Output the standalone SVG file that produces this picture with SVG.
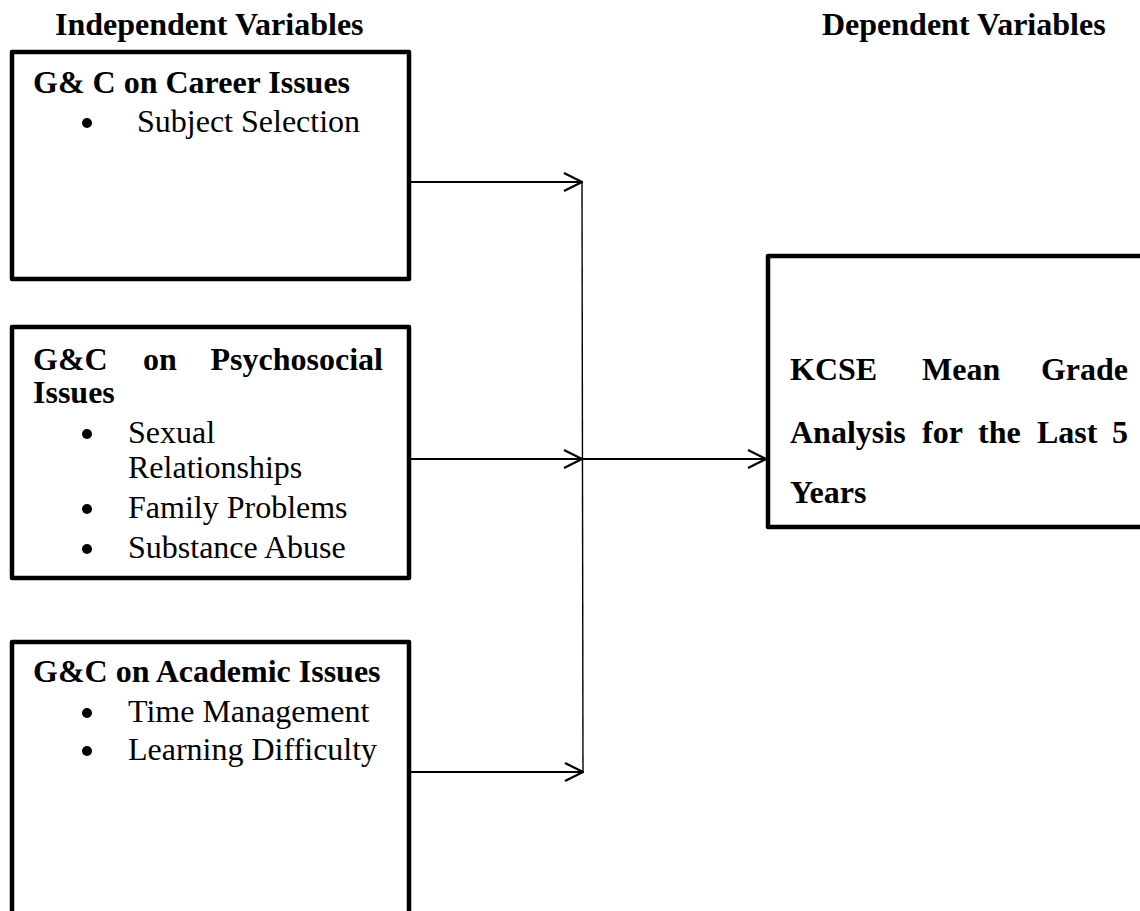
<svg xmlns="http://www.w3.org/2000/svg" width="1140" height="911" viewBox="0 0 1140 911">
  <defs>
    <style>
      .box { fill: #ffffff; stroke: #000000; stroke-width: 4.5; stroke-linejoin: round; }
      .hd { font-family: "Liberation Serif", "Times New Roman", serif; font-size: 32px; font-weight: bold; fill: #000000; }
      .tx { font-family: "Liberation Serif", "Times New Roman", serif; font-size: 32px; fill: #000000; }
      .conn { stroke: #000000; stroke-width: 2.2; fill: none; }
      .bus { stroke: #000000; stroke-width: 1.4; fill: none; }
      .bul { fill: #000000; }
    </style>
    <marker id="arr" viewBox="0 0 20 20" refX="19" refY="10" markerWidth="20" markerHeight="20" markerUnits="userSpaceOnUse" orient="auto">
      <path d="M1,1 L19,10 L1,19" fill="none" stroke="#000000" stroke-width="2.2"/>
    </marker>
  </defs>
  <rect width="1140" height="911" fill="#ffffff"/>

  <g id="headings">
    <text class="hd" x="55" y="35">Independent Variables</text>
    <text class="hd" x="822" y="35">Dependent Variables</text>
  </g>

  <g id="node-career">
    <rect class="box" x="12" y="52" width="397" height="227"/>
    <text class="hd" x="33" y="93">G&amp; C on Career Issues</text>
    <circle class="bul" cx="87" cy="123" r="5"/>
    <text class="tx" x="137" y="132">Subject Selection</text>
  </g>

  <g id="node-psychosocial">
    <rect class="box" x="12" y="327" width="397" height="251"/>
    <text class="hd" x="33" y="370">G&amp;C</text>
    <text class="hd" x="143" y="370">on</text>
    <text class="hd" x="383" y="370" text-anchor="end">Psychosocial</text>
    <text class="hd" x="33" y="403">Issues</text>
    <circle class="bul" cx="87" cy="434" r="5"/>
    <text class="tx" x="128" y="443">Sexual</text>
    <text class="tx" x="128" y="478">Relationships</text>
    <circle class="bul" cx="87" cy="509" r="5"/>
    <text class="tx" x="128" y="518">Family Problems</text>
    <circle class="bul" cx="87" cy="549" r="5"/>
    <text class="tx" x="128" y="558">Substance Abuse</text>
  </g>

  <g id="node-academic">
    <rect class="box" x="12" y="642" width="397" height="290"/>
    <text class="hd" x="33" y="682">G&amp;C on Academic Issues</text>
    <circle class="bul" cx="87" cy="713" r="5"/>
    <text class="tx" x="128" y="722">Time Management</text>
    <circle class="bul" cx="87" cy="751" r="5"/>
    <text class="tx" x="128" y="760">Learning Difficulty</text>
  </g>

  <g id="node-kcse">
    <rect class="box" x="768" y="256" width="400" height="271"/>
    <text class="hd" x="790" y="380">KCSE</text>
    <text class="hd" x="922" y="380">Mean</text>
    <text class="hd" x="1128" y="380" text-anchor="end">Grade</text>
    <text class="hd" x="790" y="443">Analysis</text>
    <text class="hd" x="922" y="443">for</text>
    <text class="hd" x="978" y="443">the</text>
    <text class="hd" x="1037" y="443">Last</text>
    <text class="hd" x="1128" y="443" text-anchor="end">5</text>
    <text class="hd" x="790" y="503">Years</text>
  </g>

  <g id="connectors">
    <line class="bus" x1="582" y1="181" x2="583" y2="772"/>
    <line class="conn" x1="411" y1="182" x2="582" y2="182" marker-end="url(#arr)"/>
    <line class="conn" x1="411" y1="459" x2="582" y2="459" marker-end="url(#arr)"/>
    <line class="conn" x1="411" y1="772" x2="583" y2="772" marker-end="url(#arr)"/>
    <line class="conn" x1="583" y1="459" x2="766" y2="459" marker-end="url(#arr)"/>
  </g>
</svg>
